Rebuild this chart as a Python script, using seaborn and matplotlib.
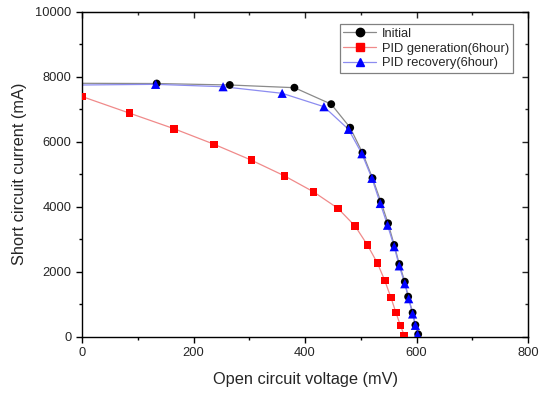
import matplotlib
matplotlib.use("Agg")
import matplotlib.pyplot as plt
from matplotlib.lines import Line2D
from matplotlib.ticker import MultipleLocator
import numpy as np
import pandas as pd
import seaborn as sns

series_names = ["Initial", "PID generation(6hour)", "PID recovery(6hour)"]

initial_v = [0, 134, 265, 381, 447, 481, 503, 521, 536, 549, 560, 569, 579, 585, 593, 598, 603]
initial_i = [7797, 7790, 7745, 7662, 7155, 6431, 5662, 4880, 4154, 3489, 2822, 2237, 1692, 1231, 738, 360, 74]

gen_v = [0, 85, 165, 237, 304, 363, 415, 459, 490, 512, 530, 543, 554, 563, 571, 578]
gen_i = [7390, 6880, 6400, 5920, 5430, 4950, 4460, 3950, 3400, 2820, 2260, 1730, 1210, 745, 350, 40]

rec_v = [0, 132, 253, 359, 434, 478, 502, 520, 535, 548, 560, 569, 579, 586, 593, 598, 602]
rec_i = [7745, 7765, 7692, 7489, 7077, 6381, 5630, 4874, 4100, 3430, 2770, 2180, 1630, 1170, 700, 350, 60]

x_ticks = [0, 200, 400, 600, 800]
y_ticks = [0, 2000, 4000, 6000, 8000, 10000]

line_colors = {series_names[0]: "#8a8a8a", series_names[1]: "#f08a8a", series_names[2]: "#8c8cf0"}
marker_colors = {series_names[0]: "black", series_names[1]: "#ff0000", series_names[2]: "#0000ff"}
marker_shapes = {series_names[0]: "o", series_names[1]: "s", series_names[2]: "^"}
marker_sizes = {series_names[0]: 32, series_names[1]: 30, series_names[2]: 44}

frames = []
for name, v, i in [(series_names[0], initial_v, initial_i),
                   (series_names[1], gen_v, gen_i),
                   (series_names[2], rec_v, rec_i)]:
    frames.append(pd.DataFrame({"v": v, "i": i, "series": name, "order": range(len(v))}))
df = pd.concat(frames, ignore_index=True)
# Initial and recovery curves start at V=0 without a visible marker
df_mark = df[~((df["order"] == 0) & (df["series"] != series_names[1]))]

sns.set_style("ticks")
plt.rcParams['font.family'] = ['Liberation Sans', 'DejaVu Sans']

fig = plt.figure(figsize=(5.41, 3.94), dpi=100)
ax = fig.add_axes([0.1516, 0.1454, 0.8244, 0.8249])

sns.lineplot(data=df, x="v", y="i", hue="series", palette=line_colors, sort=False,
             estimator=None, legend=False, linewidth=0.9, ax=ax)

for name in series_names:
    sub = df_mark[df_mark["series"] == name]
    sns.scatterplot(data=sub, x="v", y="i", color=marker_colors[name], marker=marker_shapes[name],
                    s=marker_sizes[name], edgecolor="none", linewidth=0, legend=False, ax=ax,
                    zorder=3)

ax.set_xlim(0, 800)
ax.set_ylim(0, 10000)
ax.set_xticks(x_ticks)
ax.set_yticks(y_ticks)
ax.xaxis.set_minor_locator(MultipleLocator(100))
ax.yaxis.set_minor_locator(MultipleLocator(1000))
ax.tick_params(which="both", direction="out", labelsize=9.3, width=1, color="black", pad=3.5)
ax.tick_params(which="major", length=4)
ax.tick_params(which="minor", length=2.5)
for s in ax.spines.values():
    s.set_linewidth(1)
    s.set_color("black")
    s.set_visible(True)

# top / right mirrored ticks pointing inward
secx = ax.secondary_xaxis("top")
secx.set_xticks(x_ticks)
secx.xaxis.set_minor_locator(MultipleLocator(100))
secx.tick_params(which="both", direction="in", labeltop=False, width=1)
secx.tick_params(which="major", length=4)
secx.tick_params(which="minor", length=2.5)
secy = ax.secondary_yaxis("right")
secy.set_yticks(y_ticks)
secy.yaxis.set_minor_locator(MultipleLocator(1000))
secy.tick_params(which="both", direction="in", labelright=False, width=1)
secy.tick_params(which="major", length=4)
secy.tick_params(which="minor", length=2.5)

ax.set_xlabel("Open circuit voltage (mV)", fontsize=11.8, labelpad=9)
ax.set_ylabel("Short circuit current (mA)", fontsize=11.8, labelpad=6)

handles = [Line2D([], [], color=line_colors[n], lw=0.9, marker=marker_shapes[n],
                  markerfacecolor=marker_colors[n], markeredgecolor=marker_colors[n],
                  markersize=6) for n in series_names]
leg = ax.legend(handles, series_names, loc="upper right", bbox_to_anchor=(0.967, 0.962),
                fontsize=9.3, frameon=True, fancybox=False, framealpha=1,
                edgecolor="#808080", handlelength=2.5, borderpad=0.3, labelspacing=0.2,
                handletextpad=0.5, borderaxespad=0)
leg.get_frame().set_linewidth(0.9)

fig.savefig("out.png", dpi=100)
